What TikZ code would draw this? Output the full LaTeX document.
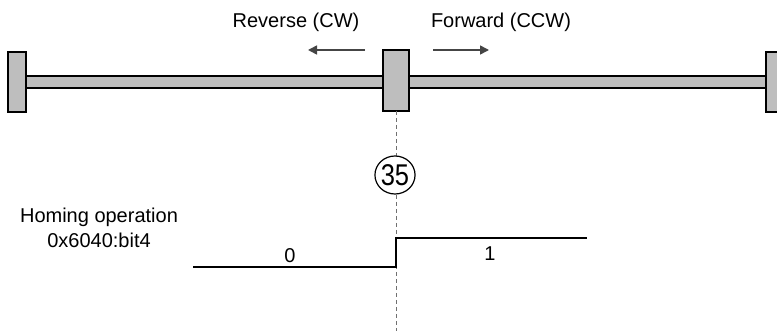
\documentclass[tikz,border=0pt]{standalone}
\usepackage{fontspec}
\setmainfont{Liberation Sans}
\usetikzlibrary{arrows.meta,shapes.geometric}
\definecolor{barfill}{HTML}{BEBEBE}
\definecolor{arrowgray}{HTML}{454545}
\definecolor{dashgray}{HTML}{707070}
\begin{document}
\begin{tikzpicture}[x=1pt,y=-1pt,
  part/.style={draw=black,line width=2pt,fill=barfill},
  dirarrow/.style={draw=arrowgray,fill=arrowgray,line width=1.6pt,-{Triangle[length=9pt,width=9pt]}},
  lbl/.style={font=\fontsize{20}{24}\selectfont,inner sep=0pt,anchor=base},
  sig/.style={draw=black,line width=2.2pt},
  guide/.style={draw=dashgray,line width=1pt,dash pattern=on 4pt off 3pt}
]
\useasboundingbox (0,0) rectangle (777,331);
\clip (0,0) rectangle (777,331);
% rail and stops
\draw[part] (26,76) rectangle (766,88);
\draw[part] (8,52) rectangle (26,112);
\draw[part] (766,52) rectangle (788,112);
\draw[part] (383,50) rectangle (409,111);
\coordinate (hp) at (396,111);
% direction labels and arrows
\node[lbl] (rev) at (296,28) {Reverse (CW)};
\node[lbl] (fwd) at (501,28) {Forward (CCW)};
\coordinate (la0) at (365,50);
\coordinate (la1) at (308,50);
\coordinate (ra0) at (433,50);
\coordinate (ra1) at (489,50);
\draw[dirarrow] (la0) -- (la1);
\draw[dirarrow] (ra0) -- (ra1);
% dashed guide
\coordinate (dbot) at (396,331);
\draw[guide] (hp) -- (dbot);
% circled number
\node[ellipse,draw=black,line width=1.2pt,fill=white,minimum width=34pt,minimum height=38pt,inner sep=0pt] (c35) at (395,175) {\scalebox{0.85}[1]{\fontsize{30}{30}\selectfont 35}};
% signal
\coordinate (s0) at (193,267);
\coordinate (s1) at (396,267);
\coordinate (s2) at (396,238);
\coordinate (s3) at (587,238);
\draw[sig] (s0) -- (s1) -- (s2) -- (s3);
\node[lbl] (v0) at (290,263) {0};
\node[lbl] (v1) at (490,261) {1};
\node[lbl] (hom1) at (99,223) {Homing operation};
\node[lbl] (hom2) at (99,248) {0x6040:bit4};
\end{tikzpicture}
\end{document}
